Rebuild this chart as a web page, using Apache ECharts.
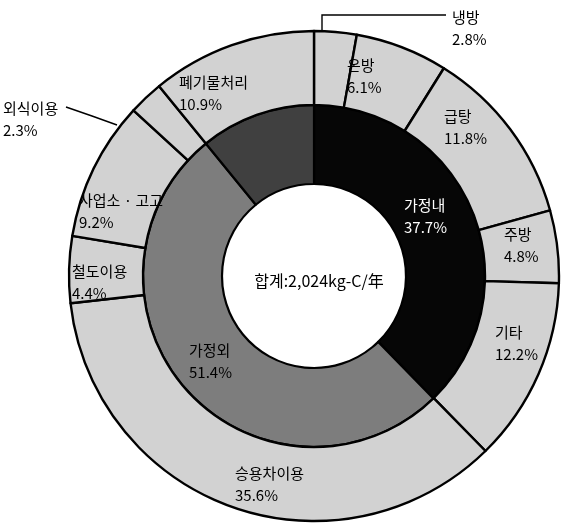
<!DOCTYPE html>
<html>
<head>
<meta charset="utf-8">
<script src="https://cdn.jsdelivr.net/npm/echarts@6/dist/echarts.min.js"></script>
<style>
  html, body { margin: 0; padding: 0; background: #fff; }
  #chart { width: 561px; height: 524px; }
</style>
</head>
<body>
<div id="chart"></div>
<script>
// Household carbon emissions: inner ring = main groups, outer ring = breakdown
const innerNames = ['가정내', '가정외', '폐기물처리'];
const innerValues = [37.7, 51.4, 10.9];

const outerNames = ['냉방', '온방', '급탕', '주방', '기타',
                    '승용차이용', '철도이용', '사업소 · 고고', '외식이용', '폐기물처리 '];
const outerValues = [2.8, 6.1, 11.8, 4.8, 12.2, 35.6, 4.4, 9.2, 2.3, 10.9];

const totalText = '합계:2,024kg-C/年';

const FONT = '"Noto Sans CJK KR", "Noto Sans", sans-serif';
const CX = 314, CY = 276;

// colours for the rings
const innerColors = ['#060606', '#7d7d7d', '#404040'];
const outerColor = '#d2d2d2';

// where each label's text block starts (left edge, vertical middle)
const labelAnchor = {
  '냉방': [452, 28],
  '온방': [347, 76],
  '급탕': [444, 127],
  '주방': [504, 245],
  '기타': [495, 343],
  '승용차이용': [235, 484],
  '철도이용': [72, 282],
  '사업소 · 고고': [79, 211],
  '외식이용': [3, 119],
  '폐기물처리 ': [179, 93],
  '가정내': [404, 216],
  '가정외': [189, 361]
};
// leader lines for the two thin outer slices
const leaderLines = {
  '냉방': [[322, 52], [322, 15], [446, 15]],
  '외식이용': [[117, 125], [92, 116], [66, 107]]
};

const chart = echarts.init(document.getElementById('chart'), null, { renderer: 'canvas' });

function fmt(p) {
  return p.name.trim() + '\n' + p.value.toFixed(1) + '%';
}

const innerData = innerNames.map((n, i) => ({
  name: n,
  value: innerValues[i],
  itemStyle: { color: innerColors[i] },
  label: {
    show: i !== 2,
    color: i === 0 ? '#ffffff' : '#000000'
  }
}));

const outerData = outerNames.map((n, i) => {
  const lead = !!leaderLines[n];
  return {
    name: n,
    value: outerValues[i],
    itemStyle: { color: outerColor },
    label: { position: lead ? 'outside' : 'inside' },
    labelLine: { show: lead, lineStyle: { color: '#000', width: 1.4 } }
  };
});

function makeLayout(names) {
  return function (params) {
    const n = names[params.dataIndex];
    const a = labelAnchor[n];
    if (!a) return {};
    const out = { x: a[0], y: a[1], align: 'left', verticalAlign: 'middle' };
    if (leaderLines[n]) out.labelLinePoints = leaderLines[n];
    return out;
  };
}

const labelBase = {
  formatter: fmt,
  fontFamily: FONT,
  fontSize: 15,
  lineHeight: 22,
  color: '#000',
  align: 'left'
};

chart.setOption({
  animation: false,
  backgroundColor: '#ffffff',
  title: {
    text: totalText,
    left: CX,
    top: CY,
    textAlign: 'center',
    textVerticalAlign: 'middle',
    textStyle: { fontFamily: FONT, fontSize: 16, fontWeight: 'normal', color: '#000' }
  },
  series: [
    {
      name: 'inner',
      type: 'pie',
      center: [CX, CY],
      radius: [92, 171],
      startAngle: 90,
      clockwise: true,
      avoidLabelOverlap: false,
      itemStyle: { borderColor: '#000', borderWidth: 2.2 },
      label: Object.assign({}, labelBase, { position: 'inside' }),
      labelLine: { show: false },
      labelLayout: makeLayout(innerNames),
      emphasis: { disabled: true },
      data: innerData
    },
    {
      name: 'outer',
      type: 'pie',
      center: [CX, CY],
      radius: [171, 245],
      startAngle: 90,
      clockwise: true,
      avoidLabelOverlap: false,
      itemStyle: { borderColor: '#000', borderWidth: 2.4 },
      label: Object.assign({}, labelBase),
      labelLayout: makeLayout(outerNames),
      emphasis: { disabled: true },
      data: outerData
    }
  ]
});
</script>
</body>
</html>
